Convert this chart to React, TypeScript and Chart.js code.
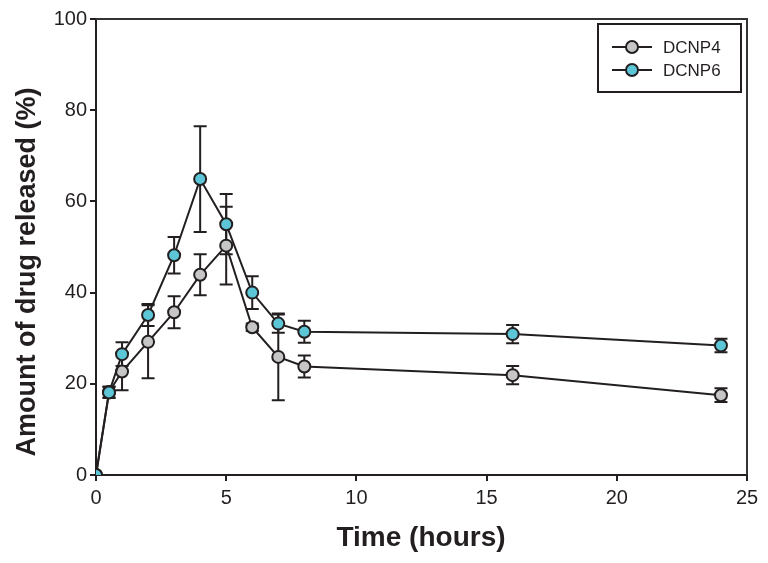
import React, { useEffect, useRef } from "react";
import { Chart, registerables } from "chart.js";

Chart.register(...registerables);

const times = [0, 0.5, 1, 2, 3, 4, 5, 6, 7, 8, 16, 24];
const dcnp4 = [0, 18.2, 22.7, 29.2, 35.7, 43.9, 50.3, 32.4, 25.9, 23.8, 21.9, 17.5];
const dcnp4Err = [0, 1.2, 4.1, 8.0, 3.5, 4.5, 8.5, 0.8, 9.5, 2.4, 2.0, 1.5];
const dcnp6 = [0, 18.1, 26.5, 35.1, 48.2, 64.9, 55.0, 40.0, 33.2, 31.4, 30.9, 28.4];
const dcnp6Err = [0, 1.2, 2.6, 2.4, 4.0, 11.6, 6.6, 3.6, 2.0, 2.4, 2.0, 1.5];

const xTicks = [0, 5, 10, 15, 20, 25];
const yTicks = [0, 20, 40, 60, 80, 100];

const seriesNames = ["DCNP4", "DCNP6"];
const xTitle = "Time (hours)";
const yTitle = "Amount of drug released (%)";

const INK = "#231f20";
const GRAY = "#c6c6c6";
const CYAN = "#5cc6d6";
const FONT = "'Liberation Sans', Arial, Helvetica, sans-serif";

export default function App() {
  const ref = useRef<HTMLCanvasElement | null>(null);

  useEffect(() => {
    document.body.style.margin = "0";
    const canvas = ref.current;
    if (!canvas) return;

    const errors = [dcnp6Err, dcnp4Err];

    const errorBars = {
      id: "errorBars",
      beforeDatasetsDraw(chart: any) {
        const ctx = chart.ctx;
        const xs = chart.scales.x;
        const ys = chart.scales.y;
        ctx.save();
        ctx.strokeStyle = INK;
        ctx.lineWidth = 2;
        chart.data.datasets.forEach((ds: any, di: number) => {
          ds.data.forEach((p: any, i: number) => {
            const e = errors[di][i];
            if (!e) return;
            const px = xs.getPixelForValue(p.x);
            const top = ys.getPixelForValue(p.y + e);
            const bot = ys.getPixelForValue(p.y - e);
            const cw = 6.5;
            ctx.beginPath();
            ctx.moveTo(px, top);
            ctx.lineTo(px, bot);
            ctx.moveTo(px - cw, top);
            ctx.lineTo(px + cw, top);
            ctx.moveTo(px - cw, bot);
            ctx.lineTo(px + cw, bot);
            ctx.stroke();
          });
        });
        ctx.restore();
      },
    };

    const decor = {
      id: "decor",
      afterDraw(chart: any) {
        const ctx = chart.ctx;
        const a = chart.chartArea;
        ctx.save();
        // frame top & right
        ctx.strokeStyle = "#333";
        ctx.lineWidth = 2;
        ctx.beginPath();
        ctx.moveTo(a.left, a.top);
        ctx.lineTo(a.right, a.top);
        ctx.lineTo(a.right, a.bottom);
        ctx.stroke();

        // legend
        const lx = 598, ly = 24, lw = 143, lh = 68;
        ctx.fillStyle = "#fff";
        ctx.fillRect(lx, ly, lw, lh);
        ctx.strokeStyle = INK;
        ctx.lineWidth = 2;
        ctx.strokeRect(lx, ly, lw, lh);
        const fills = [GRAY, CYAN];
        [47, 70].forEach((y, i) => {
          ctx.strokeStyle = INK;
          ctx.lineWidth = 2;
          ctx.beginPath();
          ctx.moveTo(612, y);
          ctx.lineTo(652, y);
          ctx.stroke();
          ctx.beginPath();
          ctx.arc(632, y, 6, 0, Math.PI * 2);
          ctx.fillStyle = fills[i];
          ctx.fill();
          ctx.stroke();
          ctx.fillStyle = INK;
          ctx.font = `17px ${FONT}`;
          ctx.textAlign = "left";
          ctx.textBaseline = "middle";
          ctx.fillText(seriesNames[i], 663, y + 1);
        });

        // axis titles
        ctx.fillStyle = INK;
        ctx.font = `bold 28px ${FONT}`;
        ctx.textAlign = "center";
        ctx.textBaseline = "middle";
        ctx.fillText(xTitle, 421, 538);
        ctx.translate(28, 272);
        ctx.rotate(-Math.PI / 2);
        ctx.font = `bold 27px ${FONT}`;
        ctx.fillText(yTitle, 0, 0);
        ctx.restore();
      },
    };

    const chart = new Chart(canvas, {
      type: "scatter",
      data: {
        datasets: [
          {
            label: seriesNames[1],
            data: times.map((t, i) => ({ x: t, y: dcnp6[i] })),
            showLine: true,
            borderColor: INK,
            borderWidth: 2,
            pointBackgroundColor: CYAN,
            pointBorderColor: INK,
            pointBorderWidth: 2,
            pointRadius: 6,
          },
          {
            label: seriesNames[0],
            data: times.map((t, i) => ({ x: t, y: dcnp4[i] })),
            showLine: true,
            borderColor: INK,
            borderWidth: 2,
            pointBackgroundColor: GRAY,
            pointBorderColor: INK,
            pointBorderWidth: 2,
            pointRadius: 6,
          },
        ],
      },
      options: {
        responsive: false,
        animation: false,
        devicePixelRatio: 1,
        layout: { padding: { top: 19, right: 21, left: 0, bottom: 0 } },
        plugins: { legend: { display: false }, tooltip: { enabled: false } },
        scales: {
          x: {
            type: "linear",
            min: 0,
            max: 25,
            afterFit: (s: any) => { s.height = 88; },
            afterBuildTicks: (s: any) => { s.ticks = xTicks.map((v) => ({ value: v })); },
            grid: { drawOnChartArea: false, drawTicks: true, tickLength: 6, color: INK, lineWidth: 2 },
            border: { color: INK, width: 2 },
            ticks: { color: INK, font: { family: FONT, size: 20 }, padding: 5, maxRotation: 0 },
          },
          y: {
            type: "linear",
            min: 0,
            max: 100,
            afterFit: (s: any) => { s.width = 96; },
            afterBuildTicks: (s: any) => { s.ticks = yTicks.map((v) => ({ value: v })); },
            grid: { drawOnChartArea: false, drawTicks: true, tickLength: 6, color: INK, lineWidth: 2 },
            border: { color: INK, width: 2 },
            ticks: { color: INK, font: { family: FONT, size: 20 }, padding: 3 },
          },
        },
      },
      plugins: [errorBars, decor],
    } as any);

    return () => chart.destroy();
  }, []);

  return (
    <div style={{ width: 768, height: 563 }}>
      <canvas ref={ref} width={768} height={563} style={{ display: "block" }} />
    </div>
  );
}
